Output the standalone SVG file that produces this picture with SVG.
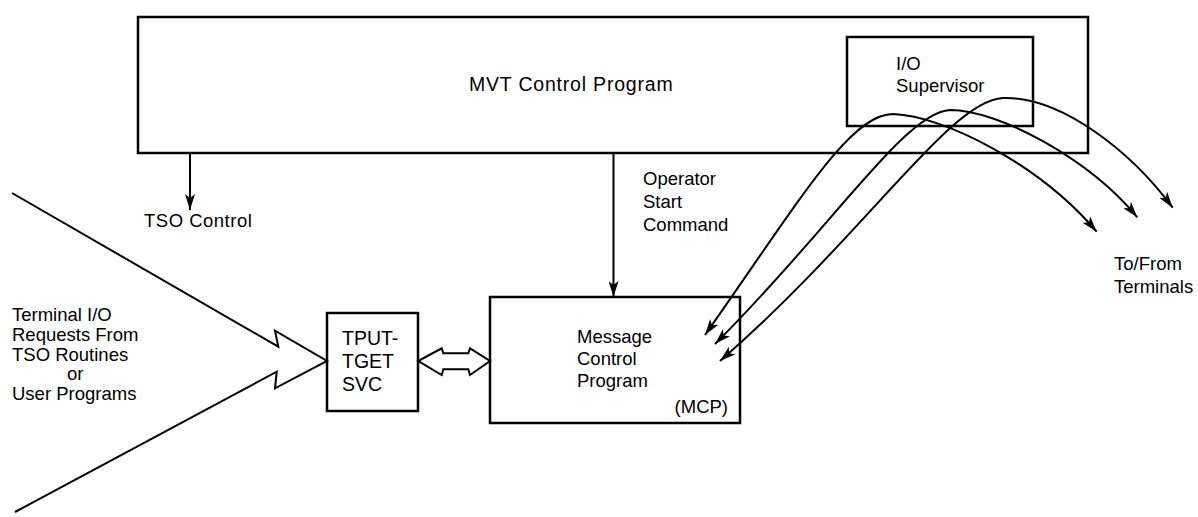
<svg xmlns="http://www.w3.org/2000/svg" width="1198" height="517" viewBox="0 0 1198 517">
  <style>
    .box { fill: none; stroke: #000; stroke-width: 2.5; }
    .ln { fill: none; stroke: #000; stroke-width: 2; }
    .t { font-family: "Liberation Sans", Arial, sans-serif; font-size: 18.5px; fill: #000; }
    .big { font-size: 19.5px; }
  </style>
  <defs>
    <marker id="ah" viewBox="0 0 16 10" refX="16" refY="5" markerWidth="16" markerHeight="10" markerUnits="userSpaceOnUse" orient="auto-start-reverse">
      <path d="M0,0 L16,5 L0,10 L4,5 z" fill="#000"/>
    </marker>
  </defs>
  <rect width="1198" height="517" fill="#fff"/>

  <g id="mvt">
    <rect class="box" x="138" y="17" width="950" height="136"/>
    <text class="t" x="469" y="91" style="font-size:19.5px;letter-spacing:0.8px">MVT Control Program</text>
  </g>
  <g id="io-supervisor">
    <rect class="box" x="847" y="37" width="186" height="89"/>
    <text class="t" x="896" y="70">I/O</text>
    <text class="t" x="896" y="92">Supervisor</text>
  </g>
  <g id="tso-control">
    <text class="t" x="144" y="227" style="letter-spacing:0.5px">TSO Control</text>
  </g>
  <g id="operator-label">
    <text class="t" x="643" y="185">Operator</text>
    <text class="t" x="643" y="208">Start</text>
    <text class="t" x="643" y="231">Command</text>
  </g>
  <g id="terminal-requests">
    <text class="t" x="12" y="321">Terminal I/O</text>
    <text class="t" x="12" y="341">Requests From</text>
    <text class="t" x="12" y="361">TSO Routines</text>
    <text class="t" x="67" y="380">or</text>
    <text class="t" x="12" y="400">User Programs</text>
  </g>
  <g id="tput-tget">
    <rect class="box" x="327" y="313" width="91" height="98"/>
    <text class="t big" x="342" y="345">TPUT-</text>
    <text class="t big" x="342" y="368">TGET</text>
    <text class="t big" x="342" y="391">SVC</text>
  </g>
  <g id="mcp">
    <rect class="box" x="490" y="297" width="250" height="126"/>
    <text class="t" x="577" y="343">Message</text>
    <text class="t" x="577" y="365">Control</text>
    <text class="t" x="577" y="387">Program</text>
    <text class="t" x="728" y="413" text-anchor="end">(MCP)</text>
  </g>
  <g id="terminals">
    <text class="t" x="1114" y="270">To/From</text>
    <text class="t" x="1114" y="293">Terminals</text>
  </g>

  <g id="connectors">
    <line class="ln" x1="190" y1="153" x2="190" y2="210" marker-end="url(#ah)"/>
    <line class="ln" x1="613.5" y1="153" x2="613.5" y2="297" marker-end="url(#ah)"/>
    <polyline class="ln" points="12,193 278.3,346.7 275,330.7 327,361 275,388.3 276.7,371.7 15,512"/>
    <polygon class="ln" points="418.3,361 441.7,348.3 443.3,353.3 468.3,353.3 470,348.3 490,361 470,375 468.3,369.3 443.3,369.3 441.7,375"/>
    <path class="ln" d="M705,335 C800,200 850,114 893,114 C945,116 1040,165 1096.7,231.7" marker-start="url(#ah)" marker-end="url(#ah)"/>
    <path class="ln" d="M715,344 C830,230 905,112 950,110 C1000,110 1090,160 1137.3,217.3" marker-start="url(#ah)" marker-end="url(#ah)"/>
    <path class="ln" d="M720,361 C865,235 950,100 1003,98 C1060,96 1130,150 1172.7,207.7" marker-start="url(#ah)" marker-end="url(#ah)"/>
  </g>
</svg>
